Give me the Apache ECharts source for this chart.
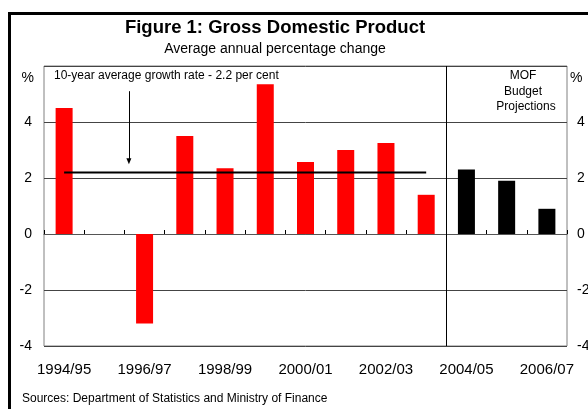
<!DOCTYPE html>
<html>
<head>
<meta charset="utf-8">
<script src="https://cdn.jsdelivr.net/npm/echarts@6/dist/echarts.min.js"></script>
<style>
html,body{margin:0;padding:0;background:#fff;}
#c{width:588px;height:409px;}
</style>
</head>
<body>
<div id="c"></div>
<script>
var categories = ['1994/95','1995/96','1996/97','1997/98','1998/99','1999/00','2000/01','2001/02','2002/03','2003/04','2004/05','2005/06','2006/07'];
var actualGrowth = [4.5, 0, -3.2, 3.5, 2.35, 5.35, 2.57, 3.0, 3.25, 1.4, null, null, null];
var projectedGrowth = [null, null, null, null, null, null, null, null, null, null, 2.3, 1.9, 0.9];
var averageGrowth = [2.2, 2.2, 2.2, 2.2, 2.2, 2.2, 2.2, 2.2, 2.2, 2.2, null, null, null];
var yTicks = [-4, -2, 0, 2, 4, 6];
var arrowFrom = [2.11, 5.1];
var arrowTo = [2.11, 2.6];
var projectionStart = 10;

var FONT = "'Liberation Sans', Arial, sans-serif";
var chart = echarts.init(document.getElementById('c'));
var yMin = yTicks[0], yMax = yTicks[yTicks.length - 1];

chart.setOption({
  animation: false,
  backgroundColor: '#fff',
  grid: { left: 44, right: 21, top: 66, bottom: 63, show: true, borderColor: '#808080', borderWidth: 1, backgroundColor: 'transparent', containLabel: false, outerBoundsMode: 'none' },
  xAxis: [
    { type: 'category', data: categories, position: 'bottom',
      axisLine: { onZero: true, lineStyle: { color: '#555', width: 1 } },
      axisTick: { show: true, inside: true, length: 4, interval: 0, lineStyle: { color: '#000' } },
      axisLabel: { show: false }, splitLine: { show: false } },
    { type: 'category', data: categories, position: 'bottom',
      axisLine: { show: false, onZero: false }, axisTick: { show: false },
      axisLabel: { interval: 1, margin: 16, fontSize: 15, color: '#000', fontFamily: FONT },
      splitLine: { show: false } },
    { type: 'value', min: 0, max: categories.length, show: false }
  ],
  yAxis: [
    { type: 'value', position: 'left', min: yMin, max: yMax, interval: 2,
      name: '%', nameLocation: 'end', nameGap: -12,
      nameTextStyle: { align: 'right', verticalAlign: 'middle', padding: [0, 10, 0, 0], fontSize: 14, color: '#000', fontFamily: FONT },
      axisLine: { show: false }, axisTick: { show: false },
      axisLabel: { margin: 12, fontSize: 14, color: '#000', fontFamily: FONT, formatter: function (v) { return v === yMax ? '' : String(v); } },
      splitLine: { show: true, lineStyle: { color: '#444', width: 1 } } },
    { type: 'value', position: 'right', min: yMin, max: yMax, interval: 2,
      name: '%', nameLocation: 'end', nameGap: -12,
      nameTextStyle: { align: 'left', verticalAlign: 'middle', padding: [0, 0, 0, 3], fontSize: 14, color: '#000', fontFamily: FONT },
      axisLine: { show: false }, axisTick: { show: false },
      axisLabel: { margin: 10, fontSize: 14, color: '#000', fontFamily: FONT, formatter: function (v) { return v === yMax ? '' : String(v); } },
      splitLine: { show: false } }
  ],
  series: [
    { name: 'Actual', type: 'bar', xAxisIndex: 0, yAxisIndex: 0, data: actualGrowth, barWidth: 17, barGap: '-100%', itemStyle: { color: '#ff0000' }, z: 3 },
    { name: 'Projection', type: 'bar', xAxisIndex: 0, yAxisIndex: 0, data: projectedGrowth, barWidth: 17, barGap: '-100%', itemStyle: { color: '#000000' }, z: 3 },
    { name: '10-year average', type: 'line', xAxisIndex: 0, yAxisIndex: 0, data: averageGrowth, symbol: 'none', lineStyle: { color: '#000', width: 2 }, z: 4 },
    { name: 'annotations', type: 'line', xAxisIndex: 2, yAxisIndex: 0, data: [], symbol: 'none', z: 5,
      markLine: { silent: true, symbol: ['none', 'none'], animation: false,
        lineStyle: { color: '#000', width: 1, type: 'solid' }, label: { show: false },
        data: [
          [{ coord: arrowFrom, symbol: 'none' }, { coord: arrowTo, symbol: 'triangle', symbolSize: [5, 6], symbolRotate: 180 }],
          [{ coord: [projectionStart, yMin], symbol: 'none' }, { coord: [projectionStart, yMax], symbol: 'none' }]
        ] } }
  ],
  graphic: [
    { type: 'rect', shape: { x: 9.5, y: 13.5, width: 700, height: 500 }, style: { fill: 'none', stroke: '#000', lineWidth: 3 }, silent: true },
    { type: 'text', x: 275, y: 28, style: { text: 'Figure 1: Gross Domestic Product', textAlign: 'center', textVerticalAlign: 'middle', font: 'bold 18.5px ' + FONT, fill: '#000' } },
    { type: 'text', x: 275, y: 49, style: { text: 'Average annual percentage change', textAlign: 'center', textVerticalAlign: 'middle', font: '14px ' + FONT, fill: '#000' } },
    { type: 'text', x: 54, y: 76, style: { text: '10-year average growth rate - 2.2 per cent', textAlign: 'left', textVerticalAlign: 'middle', font: '12px ' + FONT, fill: '#000' } },
    { type: 'text', x: 523, y: 76, style: { text: 'MOF', textAlign: 'center', textVerticalAlign: 'middle', font: '12px ' + FONT, fill: '#000' } },
    { type: 'text', x: 523, y: 92, style: { text: 'Budget', textAlign: 'center', textVerticalAlign: 'middle', font: '12px ' + FONT, fill: '#000' } },
    { type: 'text', x: 526, y: 107, style: { text: 'Projections', textAlign: 'center', textVerticalAlign: 'middle', font: '12px ' + FONT, fill: '#000' } },
    { type: 'text', x: 22, y: 399, style: { text: 'Sources: Department of Statistics and Ministry of Finance', textAlign: 'left', textVerticalAlign: 'middle', font: '12px ' + FONT, fill: '#000' } }
  ]
});
</script>
</body>
</html>
